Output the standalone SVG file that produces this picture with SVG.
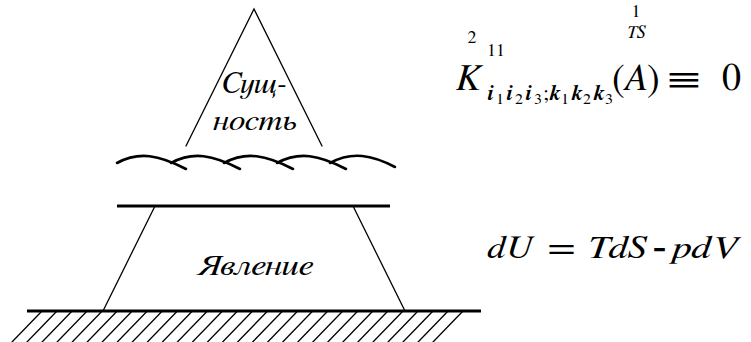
<svg xmlns="http://www.w3.org/2000/svg" width="751" height="342" viewBox="0 0 751 342">
<style>
.thin{fill:none;stroke:#000;stroke-width:1.3;stroke-linecap:round}
.thick{fill:none;stroke:#000;stroke-width:3;stroke-linecap:butt}
.wave{fill:none;stroke:#000;stroke-width:2.6;stroke-linecap:round}
.serif{font-family:FreeSerif,"Liberation Serif","DejaVu Serif",serif;fill:#000}
.it{font-style:italic}
.bi{font-style:italic;font-weight:bold}
.n{font-style:normal;font-weight:normal}
</style>
<g id="essence">
<polyline class="thin" points="186,146 254,9 322,146"/>
<text class="serif it" x="222" y="93" font-size="30" textLength="65" lengthAdjust="spacingAndGlyphs">Сущ-</text>
<text class="serif it" x="213" y="130" font-size="30" textLength="84" lengthAdjust="spacingAndGlyphs">ность</text>
</g>
<g id="waves">
<path class="wave" d="M117,163 C139,151 159,155 186,169"/>
<path class="wave" d="M171,163 C193,151 213,155 240,169"/>
<path class="wave" d="M224,163 C246,151 266,155 293,169"/>
<path class="wave" d="M277,163 C299,151 319,155 346,169"/>
<path class="wave" d="M330,163 C352,151 372,155 395,167"/>
</g>
<g id="bar">
<line class="thick" x1="117" y1="206" x2="390" y2="206"/>
</g>
<g id="phenomenon">
<polyline class="thin" points="103,311 155,206"/>
<polyline class="thin" points="353,206 405,311"/>
<text class="serif it" x="197" y="275" font-size="29" textLength="116" lengthAdjust="spacingAndGlyphs">Явление</text>
</g>
<g id="ground">
<line class="thick" x1="27" y1="311" x2="481" y2="311" stroke-width="2.6"/>
<path class="thin" d="M42,311l-30,31M57,311l-30,31M72.1,311l-30,31M87.1,311l-30,31M102.2,311l-30,31M117.2,311l-30,31M132.2,311l-30,31M147.3,311l-30,31M162.3,311l-30,31M177.4,311l-30,31M192.4,311l-30,31M207.4,311l-30,31M222.5,311l-30,31M237.5,311l-30,31M252.6,311l-30,31M267.6,311l-30,31M282.6,311l-30,31M297.7,311l-30,31M312.7,311l-30,31M327.8,311l-30,31M342.8,311l-30,31M357.8,311l-30,31M372.9,311l-30,31M387.9,311l-30,31M403,311l-30,31M418,311l-30,31M433,311l-30,31M448.1,311l-30,31M463,311l-30,31"/>
</g>
<g id="formula1" class="serif">
<text x="456" y="90" font-size="38" class="it">K</text>
<text x="472" y="43" font-size="18" text-anchor="middle">2</text>
<text x="487" y="56" font-size="18">11</text>
<text y="100" font-size="22" class="bi"><tspan x="487">i</tspan><tspan x="496" dy="4" font-size="16" class="n">1</tspan><tspan x="506" dy="-4">i</tspan><tspan x="515" dy="4" font-size="16" class="n">2</tspan><tspan x="525" dy="-4">i</tspan><tspan x="534" dy="4" font-size="16" class="n">3</tspan><tspan x="543" dy="-4" class="n">;</tspan><tspan x="549">k</tspan><tspan x="561" dy="4" font-size="16" class="n">1</tspan><tspan x="571" dy="-4">k</tspan><tspan x="583" dy="4" font-size="16" class="n">2</tspan><tspan x="593" dy="-4">k</tspan><tspan x="605" dy="4" font-size="16" class="n">3</tspan></text>
<text x="612" y="91" font-size="38">(</text>
<text x="623" y="90" font-size="38" class="it">A</text>
<text x="647" y="91" font-size="38">)</text>
<text x="636" y="38" font-size="18" text-anchor="middle" class="it">TS</text>
<text x="636" y="17" font-size="18" text-anchor="middle">1</text>
<text x="668" y="90" font-size="38" textLength="32" lengthAdjust="spacingAndGlyphs">≡</text>
<text x="722" y="90" font-size="38">0</text>
</g>
<g id="formula2" class="serif" font-size="32">
<text x="487" y="258" class="it" textLength="45" lengthAdjust="spacingAndGlyphs">dU</text>
<text x="548" y="258" textLength="27" lengthAdjust="spacingAndGlyphs">=</text>
<text x="587" y="258" class="it" textLength="59" lengthAdjust="spacingAndGlyphs">TdS</text>
<text x="653" y="258" font-weight="bold" textLength="13" lengthAdjust="spacingAndGlyphs">−</text>
<text x="672" y="258" class="it" textLength="66" lengthAdjust="spacingAndGlyphs">pdV</text>
</g>
</svg>
